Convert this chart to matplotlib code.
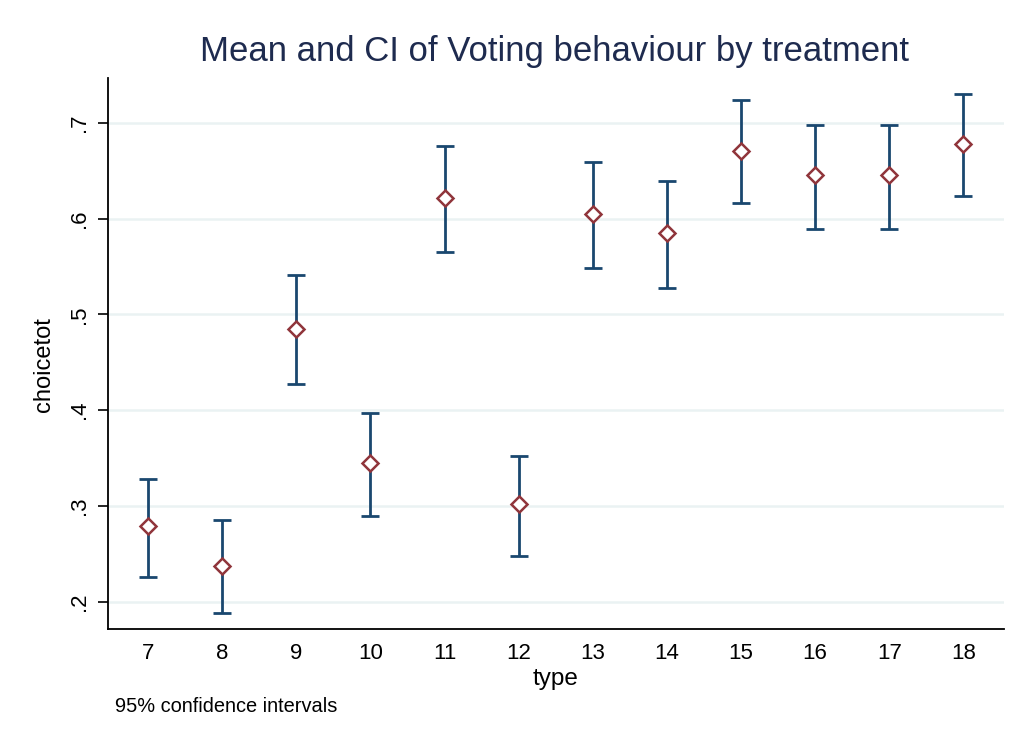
import numpy as np
import matplotlib.pyplot as plt

plt.rcParams['font.family'] = ['Liberation Sans', 'DejaVu Sans']

types = [7, 8, 9, 10, 11, 12, 13, 14, 15, 16, 17, 18]
means = [0.279, 0.2375, 0.485, 0.345, 0.621, 0.302, 0.605, 0.585, 0.671, 0.645, 0.645, 0.678]
lower = [0.226, 0.1885, 0.427, 0.2895, 0.565, 0.248, 0.548, 0.5275, 0.6165, 0.589, 0.589, 0.6235]
upper = [0.328, 0.285, 0.541, 0.397, 0.6757, 0.352, 0.659, 0.6395, 0.7234, 0.698, 0.698, 0.7297]

bar_col = '#1a476f'
mark_col = '#90353b'
grid_col = '#eaf2f3'

fig = plt.figure(figsize=(10.18, 7.45), dpi=100)
ax = fig.add_axes([0.1058, 0.1557, 0.8806, 0.7392])

means = np.array(means)
yerr = np.vstack([means - np.array(lower), np.array(upper) - means])
ax.errorbar(types, means, yerr=yerr, fmt='none', ecolor=bar_col,
            elinewidth=2, capsize=6.5, capthick=2, zorder=3)
ax.plot(types, means, linestyle='none', marker='D', markersize=8,
        markerfacecolor='white', markeredgecolor=mark_col, markeredgewidth=1.8, zorder=4)

ax.set_xlim(6.455, 18.55)
ax.set_ylim(0.1715, 0.7464)
ax.set_xticks(types)
ax.set_yticks([0.2, 0.3, 0.4, 0.5, 0.6, 0.7])
ax.set_yticklabels(['.2', '.3', '.4', '.5', '.6', '.7'], rotation=90, va='center')
ax.tick_params(axis='y', labelsize=16, length=7, width=1.2, pad=6)
ax.tick_params(axis='x', labelsize=16, length=0, pad=10)
ax.grid(axis='y', color=grid_col, linewidth=1.8, zorder=0)
ax.set_axisbelow(True)

for s in ['top', 'right']:
    ax.spines[s].set_visible(False)
for s in ['left', 'bottom']:
    ax.spines[s].set_linewidth(1.3)

ax.set_xlabel('type', fontsize=17.5, labelpad=3)
ax.set_ylabel('choicetot', fontsize=17)
ax.yaxis.set_label_coords(-0.0588, 0.48)
fig.text(0.545, 1 - 52 / 745, 'Mean and CI of Voting behaviour by treatment',
         fontsize=25, color='#1e2b4f', ha='center', va='center')
fig.text(0.113, 1 - 707 / 745, '95% confidence intervals', fontsize=14.4, va='center')

fig.savefig('out.png', dpi=100)
